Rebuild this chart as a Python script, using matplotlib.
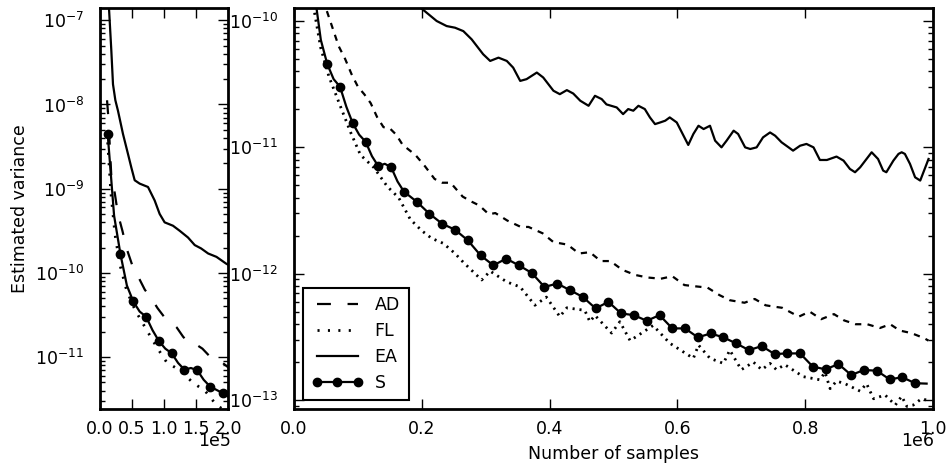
import numpy as np
import matplotlib
matplotlib.use("Agg")
import matplotlib.pyplot as plt
from matplotlib.lines import Line2D
from matplotlib.ticker import FixedLocator, NullFormatter

plt.rcParams['font.family'] = ['DejaVu Sans']
plt.rcParams['lines.scale_dashes'] = False

# ---------------- data (log10 of estimated variance) ----------------
ea_x = [1.2e4, 1.4e4, 1.77e4, 2.03e4, 2.4e4, 2.81e4, 3.59e4, 4.38e4, 4.9e4, 5.42e4,
        6.2e4, 7.5e4, 8.54e4, 9.32e4, 1.01e5, 1.14e5, 1.245e5, 1.375e5, 1.48e5, 1.58e5,
        1.69e5, 1.82e5, 1.97e5, 2.233e5, 2.389e5, 2.52e5, 2.65e5, 2.78e5, 2.96e5, 3.07e5,
        3.20e5, 3.33e5, 3.43e5, 3.54e5, 3.64e5, 3.80e5, 3.90e5, 4.06e5, 4.16e5, 4.27e5,
        4.37e5, 4.48e5, 4.61e5, 4.71e5, 4.815e5, 4.89e5, 5.05e5, 5.15e5, 5.23e5, 5.31e5,
        5.39e5, 5.49e5, 5.57e5, 5.65e5, 5.73e5, 5.81e5, 5.88e5, 5.99e5, 6.07e5, 6.17e5,
        6.25e5, 6.33e5, 6.41e5, 6.51e5, 6.59e5, 6.69e5, 6.77e5, 6.88e5, 6.95e5, 7.06e5,
        7.14e5, 7.24e5, 7.34e5, 7.45e5, 7.53e5, 7.63e5, 7.74e5, 7.81e5, 7.92e5, 8.02e5,
        8.13e5, 8.23e5, 8.34e5, 8.49e5, 8.60e5, 8.70e5, 8.78e5, 8.86e5, 8.96e5, 9.04e5,
        9.14e5, 9.22e5, 9.27e5, 9.38e5, 9.46e5, 9.51e5, 9.56e5, 9.64e5, 9.72e5, 9.80e5,
        9.87e5, 9.93e5]
ea_log = [-6.40, -6.85, -7.36, -7.76, -7.95, -8.075, -8.35, -8.59, -8.75, -8.90,
          -8.94, -8.98, -9.14, -9.30, -9.40, -9.44, -9.50, -9.58, -9.67, -9.71,
          -9.77, -9.81, -9.89, -10.00, -10.04, -10.053, -10.08, -10.145, -10.263, -10.316,
          -10.29, -10.316, -10.369, -10.474, -10.46, -10.408, -10.447, -10.552, -10.579, -10.547,
          -10.574, -10.631, -10.671, -10.592, -10.618, -10.66, -10.684, -10.737, -10.697, -10.71,
          -10.671, -10.697, -10.763, -10.816, -10.803, -10.789, -10.763, -10.803, -10.882, -10.981,
          -10.894, -10.829, -10.855, -10.829, -10.947, -11.0, -10.947, -10.868, -10.894, -11.0,
          -11.013, -11.0, -10.921, -10.882, -10.908, -10.96, -11.0, -11.026, -10.987, -10.973,
          -11.0, -11.1, -11.1, -11.073, -11.105, -11.171, -11.197, -11.158, -11.092, -11.039,
          -11.092, -11.184, -11.197, -11.105, -11.052, -11.039, -11.052, -11.131, -11.237, -11.263,
          -11.171, -11.092]

s_x = [1.2e4, 2.2e4, 3.2e4, 4.2e4, 5.2e4, 6.2e4, 7.2e4, 8.2e4, 9.2e4, 1.02e5,
       1.12e5, 1.22e5, 1.32e5, 1.42e5, 1.52e5, 1.62e5, 1.72e5, 1.82e5, 1.92e5,
       2.12e5, 2.32e5, 2.52e5, 2.72e5, 2.92e5, 3.12e5, 3.32e5, 3.52e5, 3.72e5, 3.92e5,
       4.12e5, 4.32e5, 4.52e5, 4.72e5, 4.92e5, 5.12e5, 5.32e5, 5.52e5, 5.72e5, 5.92e5,
       6.12e5, 6.32e5, 6.52e5, 6.72e5, 6.92e5, 7.12e5, 7.32e5, 7.52e5, 7.72e5, 7.92e5,
       8.12e5, 8.32e5, 8.52e5, 8.72e5, 8.92e5, 9.12e5, 9.32e5, 9.52e5, 9.72e5, 9.90e5]
s_log = [-8.35, -9.32, -9.78, -10.15, -10.34, -10.46, -10.52, -10.68, -10.81, -10.90,
         -10.955, -11.07, -11.15, -11.13, -11.157, -11.27, -11.35, -11.39, -11.43,
         -11.526, -11.605, -11.652, -11.736, -11.855, -11.934, -11.881, -11.934, -11.994, -12.105,
         -12.078, -12.131, -12.184, -12.275, -12.223, -12.315, -12.328, -12.373, -12.328, -12.433,
         -12.433, -12.504, -12.473, -12.504, -12.552, -12.605, -12.573, -12.636, -12.631, -12.631,
         -12.736, -12.757, -12.715, -12.802, -12.762, -12.768, -12.836, -12.82, -12.867, -12.87]
s_marker_x = [1.2e4 + 2e4 * k for k in range(49)]

ad_x = [1.1e4, 1.3e4, 1.6e4, 1.8e4, 2.3e4, 2.8e4, 3.5e4, 4.2e4, 5.0e4, 6.0e4,
        7.0e4, 8.0e4, 9.0e4, 1.0e5, 1.1e5, 1.2e5, 1.3e5, 1.4e5, 1.5e5, 1.6e5,
        1.7e5, 1.8e5, 1.9e5, 2.05e5, 2.2e5, 2.32e5, 2.45e5, 2.64e5, 2.78e5, 2.9e5,
        3.05e5, 3.15e5, 3.34e5, 3.55e5, 3.67e5, 3.89e5, 4.06e5, 4.28e5, 4.46e5, 4.63e5,
        4.8e5, 4.95e5, 5.14e5, 5.34e5, 5.53e5, 5.74e5, 5.92e5, 6.11e5, 6.28e5, 6.47e5,
        6.66e5, 6.82e5, 7.05e5, 7.21e5, 7.38e5, 7.5e5, 7.64e5, 7.9e5, 8.07e5, 8.25e5,
        8.45e5, 8.61e5, 8.79e5, 8.97e5, 9.17e5, 9.33e5, 9.48e5, 9.66e5, 9.86e5, 9.93e5]
ad_log = [-7.95, -8.15, -8.6, -8.9, -9.05, -9.3, -9.5, -9.72, -9.9, -10.05,
          -10.2, -10.3, -10.42, -10.52, -10.58, -10.65, -10.76, -10.84, -10.85, -10.9,
          -10.98, -11.02, -11.06, -11.15, -11.25, -11.28, -11.28, -11.39, -11.43, -11.46,
          -11.53, -11.52, -11.58, -11.63, -11.63, -11.68, -11.75, -11.77, -11.84, -11.83,
          -11.9, -11.9, -11.97, -12.01, -12.03, -12.04, -12.02, -12.09, -12.1, -12.11,
          -12.17, -12.21, -12.23, -12.2, -12.25, -12.26, -12.27, -12.34, -12.3, -12.36,
          -12.32, -12.37, -12.4, -12.4, -12.43, -12.4, -12.45, -12.47, -12.51, -12.53]

fl_x = [1.2e4, 1.7e4, 2.34e4, 3.1e4, 4.17e4, 5.47e4, 7.3e4, 8.85e4, 1.04e5, 1.25e5,
        1.46e5, 1.64e5, 1.82e5, 2.0e5, 2.154e5, 2.337e5, 2.52e5, 2.65e5, 2.937e5, 3.07e5,
        3.33e5, 3.54e5, 3.77e5, 3.95e5, 4.16e5, 4.27e5, 4.55e5, 4.63e5, 4.71e5, 4.97e5,
        5.1e5, 5.26e5, 5.62e5, 5.88e5, 6.25e5, 6.33e5, 6.51e5, 6.72e5, 6.82e5, 7.0e5,
        7.19e5, 7.32e5, 7.45e5, 7.55e5, 7.68e5, 7.97e5, 8.23e5, 8.31e5, 8.39e5, 8.49e5,
        8.62e5, 8.86e5, 8.96e5, 9.07e5, 9.25e5, 9.41e5, 9.51e5, 9.59e5, 9.69e5, 9.82e5, 9.9e5]
fl_log = [-8.45, -9.05, -9.54, -9.90, -10.21, -10.44, -10.68, -10.88, -11.06, -11.16,
          -11.31, -11.40, -11.57, -11.66, -11.72, -11.76, -11.84, -11.91, -12.05, -11.98,
          -12.065, -12.105, -12.25, -12.185, -12.34, -12.27, -12.29, -12.38, -12.33, -12.47,
          -12.38, -12.53, -12.41, -12.55, -12.67, -12.565, -12.67, -12.71, -12.605, -12.76,
          -12.70, -12.76, -12.71, -12.76, -12.72, -12.815, -12.84, -12.78, -12.91, -12.85,
          -12.87, -12.93, -12.87, -12.99, -12.96, -13.04, -12.97, -13.05, -13.04, -12.99, -13.0]

labels = ["AD", "FL", "EA", "S"]
xticks_left = [0, 5e4, 1e5, 1.5e5, 2e5]
xticks_right = [0, 2e5, 4e5, 6e5, 8e5, 1e6]
yticks_left = [1e-11, 1e-10, 1e-9, 1e-8, 1e-7]
yticks_right = [1e-13, 1e-12, 1e-11, 1e-10]

# ---------------- figure ----------------
FS = 12.5
fig = plt.figure(figsize=(9.52, 4.70), dpi=100)
ax1 = fig.add_axes([100 / 952, 61 / 470, 128 / 952, 401 / 470])
ax2 = fig.add_axes([294 / 952, 61 / 470, 639 / 952, 401 / 470])

ea_v = 10 ** np.array(ea_log)
s_v = 10 ** np.array(s_log)
ad_v = 10 ** np.array(ad_log)
fl_v = 10 ** np.array(fl_log)
s_mark = [i for i, x in enumerate(s_x) if any(abs(x - m) < 1 for m in s_marker_x)]

for ax, (ad_d, fl_d) in ((ax1, ((10, 12), (1.5, 6.0))), (ax2, ((4.5, 4.5), (1.5, 3.5)))):
    ax.plot(ad_x, ad_v, color='k', lw=1.6, dashes=ad_d, dash_capstyle='butt')
    ax.plot(fl_x, fl_v, color='k', lw=2.0, dashes=fl_d, dash_capstyle='butt')
    ax.plot(ea_x, ea_v, color='k', lw=1.6)
    ax.plot(s_x, s_v, color='k', lw=1.6, marker='o', markersize=6,
            markevery=s_mark, markeredgecolor='k', markerfacecolor='k')
    ax.set_yscale('log')
    for sp in ax.spines.values():
        sp.set_linewidth(2.0)
        sp.set_color('k')


def set_log_ticks(ax, lo, hi, majors):
    ax.set_ylim(lo, hi)
    ax.set_yticks(majors)
    minors = [k * 10.0 ** e for e in range(-14, -6) for k in range(2, 10)
              if lo <= k * 10.0 ** e <= hi]
    ax.yaxis.set_minor_locator(FixedLocator(minors))
    ax.yaxis.set_minor_formatter(NullFormatter())


set_log_ticks(ax1, 10 ** -11.617, 10 ** -6.854, yticks_left)
set_log_ticks(ax2, 10 ** -13.071, 10 ** -9.897, yticks_right)

for ax in (ax1, ax2):
    ax.tick_params(which='both', direction='in', top=True, right=True,
                   labelsize=FS, color='k')
    ax.tick_params(which='major', length=7, width=1.0)
    ax.tick_params(which='minor', length=3.5, width=1.0)
    ax.tick_params(axis='x', which='major', pad=8)
    ax.tick_params(axis='y', which='major', pad=11.5)

ax1.set_xlim(0, 2e5)
ax1.set_xticks(xticks_left)
ax1.ticklabel_format(style='sci', axis='x', scilimits=(0, 0))
ax1.xaxis.get_offset_text().set_visible(False)

ax2.set_xlim(0, 1e6)
ax2.set_xticks(xticks_right)
ax2.ticklabel_format(style='sci', axis='x', scilimits=(0, 0))
ax2.xaxis.get_offset_text().set_visible(False)

# axis multipliers, placed as in the reference
fig.text(231 / 952, 1 - 446 / 470, "1e5", ha='right', va='baseline', fontsize=FS)
fig.text(934 / 952, 1 - 446 / 470, "1e6", ha='right', va='baseline', fontsize=FS)

ax1.set_ylabel("Estimated variance", fontsize=FS, labelpad=4)
ax2.set_xlabel("Number of samples", fontsize=FS, labelpad=5)

handles = [
    Line2D([], [], color='k', lw=1.6, dashes=(10, 12)),
    Line2D([], [], color='k', lw=2.0, dashes=(1.5, 6.0)),
    Line2D([], [], color='k', lw=1.6),
    Line2D([], [], color='k', lw=1.6, marker='o', markersize=6),
]
leg = ax2.legend(handles, labels, loc='lower left', fontsize=FS, numpoints=3,
                 handlelength=3.0, handletextpad=0.65, labelspacing=0.45,
                 borderpad=0.5, fancybox=False, framealpha=1, edgecolor='k')
leg.get_frame().set_linewidth(1.5)

fig.savefig("out.png", dpi=100)
